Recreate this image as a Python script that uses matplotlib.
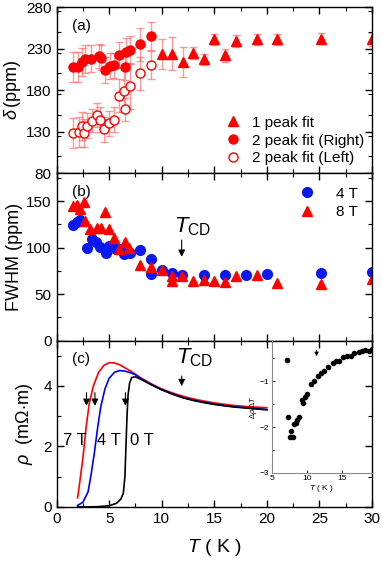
import matplotlib
matplotlib.use('Agg')
import matplotlib.pyplot as plt
from matplotlib.ticker import MultipleLocator
import numpy as np

plt.rcParams['font.family'] = ['Liberation Sans', 'DejaVu Sans']
plt.rcParams['mathtext.fontset'] = 'custom'
plt.rcParams['mathtext.rm'] = 'Liberation Sans'
plt.rcParams['mathtext.it'] = 'Liberation Sans:italic'

# (a) NMR shift
a_tri_T = [10.0, 11.0, 12.0, 13.0, 14.0, 15.0, 16.0, 17.05, 19.05, 21.0, 25.1, 30.0]
a_tri = [223, 224, 214, 225, 217, 241, 222, 239, 241, 241, 242, 241]
a_tri_err = [18, 20, 18, 7, 7, 7, 8, 7, 7, 7, 7, 8]

a_right_T = [1.6, 2.05, 2.45, 2.7, 3.25, 4.0, 4.2, 4.6, 5.1, 5.45, 5.95, 6.5, 6.6, 7.0, 7.95, 9.0]
a_right = [208, 208, 214, 217, 218, 221, 219, 204, 209, 210, 222, 208, 226, 228, 235, 245]
a_right_err = [18, 18, 17, 17, 16, 15, 15, 16, 16, 15, 16, 16, 17, 17, 20, 17]

a_left_T = [1.6, 2.15, 2.45, 2.6, 2.85, 3.35, 3.85, 4.1, 4.55, 5.0, 5.45, 5.95, 6.45, 6.5, 7.0, 7.95, 9.0]
a_left = [128, 129, 137, 128, 137, 143, 150, 144, 133, 140, 144, 173, 179, 157, 185, 200, 210]
a_left_err = [18, 18, 17, 17, 15, 14, 14, 15, 15, 15, 15, 20, 25, 14, 28, 20, 17]

# (b) FWHM
b4_T = [1.6, 1.95, 2.2, 2.9, 3.35, 3.75, 4.15, 4.75, 5.0, 5.5, 6.05, 6.45, 6.95, 7.95, 9.0, 9.0,
        10.05, 11.0, 11.95, 14.0, 16.05, 18.05, 20.0, 25.1, 30.0]
b4 = [124, 127, 130, 100, 109, 106, 101, 94, 102, 99, 98, 93, 94, 97, 88, 72,
      76, 73, 71, 70, 70, 70, 72, 73, 74]
b8_T = [1.6, 1.9, 2.2, 2.6, 2.7, 3.2, 3.8, 4.2, 4.6, 4.95, 5.45, 5.9, 6.5, 6.9, 7.95, 9.0,
        10.05, 11.0, 11.0, 11.95, 12.95, 14.0, 15.0, 16.05, 17.05, 19.05, 21.0, 25.1, 30.0]
b8 = [145, 146, 141, 149, 128, 120, 121, 121, 138, 120, 110, 98, 106, 99, 81, 79,
      76, 69, 64, 69, 64, 65, 64, 63, 69, 71, 62, 61, 66]

# (c) resistivity
r7_T = [2.0, 2.2, 2.5, 2.8, 3.1, 3.5, 4.0, 4.5, 5.0, 5.5, 6.0, 7.0, 8.0, 9.0, 10.0,
        11.0, 12.0, 13.0, 14.0, 15.0, 16.0, 17.0, 18.0, 19.0, 20.0]
r7 = [0.3, 0.8, 1.6, 2.6, 3.4, 4.0, 4.45, 4.68, 4.77, 4.76, 4.7, 4.5, 4.27, 4.07, 3.9,
      3.77, 3.66, 3.57, 3.5, 3.44, 3.39, 3.35, 3.32, 3.3, 3.28]
r4_T = [2.0, 2.5, 3.0, 3.3, 3.6, 3.9, 4.2, 4.6, 5.0, 5.5, 6.0, 6.5, 7.0, 7.5, 8.0, 9.0,
        10.0, 11.0, 12.0, 13.0, 14.0, 15.0, 16.0, 17.0, 18.0, 19.0, 20.0]
r4 = [0.05, 0.15, 0.5, 1.1, 1.8, 2.6, 3.3, 3.9, 4.25, 4.45, 4.51, 4.49, 4.44, 4.37, 4.25, 4.05,
      3.88, 3.74, 3.62, 3.53, 3.46, 3.4, 3.35, 3.31, 3.28, 3.25, 3.22]
r0_T = [2.0, 3.0, 4.0, 5.0, 5.7, 6.1, 6.35, 6.5, 6.6, 6.7, 6.8, 6.95, 7.15, 7.5, 8.0, 9.0,
        10.0, 11.0, 12.0, 13.0, 14.0, 15.0, 16.0, 17.0, 18.0, 19.0, 20.0]
r0 = [0.0, 0.0, 0.01, 0.04, 0.12, 0.25, 0.45, 1.0, 2.0, 3.0, 3.7, 4.1, 4.28, 4.3, 4.22, 4.04,
      3.87, 3.73, 3.61, 3.52, 3.45, 3.39, 3.34, 3.3, 3.27, 3.24, 3.21]
tc_T = [2.85, 3.65, 6.55]

# inset: d(rho)/dT
ins_T = [7.14, 7.38, 7.61, 7.71, 8.0, 8.19, 8.47, 8.66, 8.95, 9.28, 9.52, 9.76, 10.0, 10.57,
         11.04, 11.57, 12.0, 12.47, 13.09, 13.71, 14.19, 14.66, 15.23, 15.8, 16.28, 16.76,
         17.38, 17.85, 18.33, 18.8, 19.3]
ins_v = [-0.55, -1.78, -2.22, -2.09, -2.22, -1.94, -1.91, -1.84, -1.78, -1.42, -1.47, -1.34,
         -1.28, -1.07, -0.99, -0.88, -0.82, -0.78, -0.70, -0.61, -0.57, -0.56, -0.47, -0.45,
         -0.45, -0.39, -0.36, -0.35, -0.32, -0.35, -0.3]

tickFont = 11
labelFont = 13

fig = plt.figure(figsize=(3.82, 5.62), dpi=100)
L, W = 0.148, 0.826
axa = fig.add_axes([L, 0.692, W, 0.2955])
axb = fig.add_axes([L, 0.394, W, 0.298])
axc = fig.add_axes([L, 0.098, W, 0.296])

for ax in (axa, axb, axc):
    ax.set_xlim(0, 30)
    ax.xaxis.set_major_locator(MultipleLocator(5))
    ax.xaxis.set_minor_locator(MultipleLocator(2.5))
    ax.tick_params(which='both', direction='in', top=True, right=True, labelsize=tickFont)
    ax.tick_params(which='major', length=5, width=1)
    ax.tick_params(which='minor', length=3, width=0.8)
    for s in ax.spines.values():
        s.set_linewidth(1)

# (a)
ecol = (1, 0.35, 0.35, 0.6)
axa.errorbar(a_tri_T, a_tri, yerr=a_tri_err, fmt='none', ecolor=ecol, capsize=3, elinewidth=1)
axa.errorbar(a_right_T, a_right, yerr=a_right_err, fmt='none', ecolor=ecol, capsize=3, elinewidth=1)
axa.errorbar(a_left_T, a_left, yerr=a_left_err, fmt='none', ecolor=ecol, capsize=3, elinewidth=1)
axa.plot(a_tri_T, a_tri, '^', color='red', ms=7, label='1 peak fit')
axa.plot(a_right_T, a_right, 'o', color='red', ms=6.5, label='2 peak fit (Right)')
axa.plot(a_left_T, a_left, 'o', color='red', mfc='white', mew=1, ms=6.5, label='2 peak fit (Left)')
axa.set_ylim(80, 280)
axa.yaxis.set_minor_locator(MultipleLocator(25))
axa.set_yticks([80, 130, 180, 230, 280])
axa.tick_params(labelbottom=False)
axa.set_ylabel(r'$\delta\,$(ppm)', fontsize=labelFont, labelpad=2)
axa.text(0.05, 0.93, '(a)', transform=axa.transAxes, fontsize=tickFont, va='top')
axa.legend(loc='lower right', frameon=False, fontsize=tickFont, handletextpad=0.5,
           borderaxespad=0.1, labelspacing=0.25, numpoints=1, handlelength=1.5)

# (b)
axb.plot(b4_T, b4, 'o', color='#0a1aee', ms=7, label='4 T')
axb.plot(b8_T, b8, '^', color='red', ms=7, label='8 T')
axb.set_ylim(0, 180)
axb.set_yticks([0, 50, 100, 150])
axb.yaxis.set_minor_locator(MultipleLocator(25))
axb.tick_params(labelbottom=False)
axb.set_ylabel('FWHM (ppm)', fontsize=labelFont, labelpad=2)
axb.text(0.05, 0.93, '(b)', transform=axb.transAxes, fontsize=tickFont, va='top')
axb.legend(loc='upper right', frameon=False, fontsize=tickFont, handletextpad=1.2,
           borderaxespad=0.5, labelspacing=0.3, numpoints=1, handlelength=1.5)
axb.text(11.2, 116, r'$T_{\rm CD}$', fontsize=16)
axb.annotate('', xy=(11.9, 87), xytext=(11.9, 111),
             arrowprops=dict(arrowstyle='-|>', color='black', lw=0.8, mutation_scale=10))

# (c)
axc.plot(r7_T, r7, color='red', lw=1.2)
axc.plot(r4_T, r4, color='blue', lw=1.2)
axc.plot(r0_T, r0, color='black', lw=1.2)
axc.set_ylim(0, 5.5)
axc.set_yticks([0, 2, 4])
axc.yaxis.set_minor_locator(MultipleLocator(1))
axc.set_ylabel(r'$\rho$  (m$\Omega$$\cdot$m)', fontsize=labelFont, labelpad=6)
axc.set_xlabel(r'$T$ ( K )', fontsize=labelFont + 1, labelpad=8)
axc.text(0.05, 0.93, '(c)', transform=axc.transAxes, fontsize=tickFont, va='top')
for t in tc_T:
    axc.annotate('', xy=(t, 3.25), xytext=(t, 3.87),
                 arrowprops=dict(arrowstyle='-|>', color='black', lw=0.8, mutation_scale=10))
axc.text(0.6, 2.18, '7 T', fontsize=tickFont + 1, va='center')
axc.text(3.8, 2.18, '4 T', fontsize=tickFont + 1, va='center')
axc.text(7.0, 2.18, '0 T', fontsize=tickFont + 1, va='center')
axc.text(11.4, 4.73, r'$T_{\rm CD}$', fontsize=16)
axc.annotate('', xy=(11.9, 3.9), xytext=(11.9, 4.42),
             arrowprops=dict(arrowstyle='-|>', color='black', lw=0.8, mutation_scale=10))

# inset
axi = fig.add_axes([0.711, 0.1584, 0.263, 0.2354])
axi.patch.set_visible(False)
axi.plot(ins_T, ins_v, 'o', color='black', ms=3)
axi.set_xlim(5, 19.3)
axi.set_ylim(-3, -0.12)
axi.set_xticks([5, 10, 15])
axi.set_yticks([-3, -2, -1])
axi.yaxis.set_minor_locator(MultipleLocator(0.5))
axi.tick_params(which='both', direction='in', labelsize=6, length=2.5, width=0.6, pad=1.5)
axi.tick_params(which='minor', length=1.5)
axi.spines['top'].set_visible(False)
axi.spines['right'].set_visible(False)
for s in ('left', 'bottom'):
    axi.spines[s].set_color('#888888')
    axi.spines[s].set_linewidth(0.8)
axi.set_xlabel(r'$T$ ( K )', fontsize=6, labelpad=1)
axi.set_ylabel(r'$\Delta\rho/\Delta T$', fontsize=5.5, labelpad=1)
axi.annotate('', xy=(11.4, -0.52), xytext=(11.4, -0.27),
             arrowprops=dict(arrowstyle='-|>', color='black', lw=0.6, mutation_scale=6))

fig.savefig('out.png', dpi=100)
